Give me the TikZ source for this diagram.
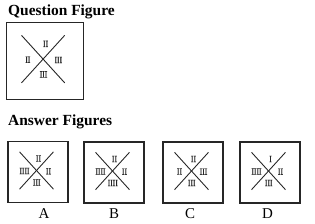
\documentclass[tikz,border=0pt]{standalone}
\usepackage{fontspec}
\setmainfont{Liberation Serif}
\newfontfamily\tallyfont[FakeStretch=0.8,FakeBold=1.5]{Liberation Serif}
\usetikzlibrary{positioning}

% one square with the cross and its four tally groups: name, top, left, right, bottom
\newcommand{\tallyfig}[5]{%
 \draw[frame] (-30,-30.5) rectangle (30,30.5);
 \draw[cross] (-18.5,-20.2) -- (15.5,17.2);
 \draw[cross] (15.5,-20.2) -- (-18.5,17.2);
 \node[tally] (#1top) at (0.5,-13.5) {#2};
 \node[tally] (#1left) at (-13.5,-1) {#3};
 \node[tally] (#1right) at (10.5,-0.8) {#4};
 \node[tally] (#1bot) at (-1.2,10.5) {#5};}

\begin{document}
\begin{tikzpicture}[x=1bp,y=-1bp,
 frame/.style={line width=1.2bp,draw=black!85},
 cross/.style={line width=.9bp,draw=black!85},
 tally/.style={font=\tallyfont\fontsize{9.5}{9.5}\selectfont,inner sep=0pt,text=black!85},
 title/.style={font=\bfseries\fontsize{15.5}{16}\selectfont,anchor=base west,inner sep=0pt},
 lab/.style={font=\fontsize{15}{15}\selectfont,anchor=base,inner sep=0pt}]
\useasboundingbox (0,0) rectangle (315,224);
\node[title] (qtitle) at (8,15) {Question Figure};
\begin{scope}[shift={(45,61)},scale=1.27]
 \tallyfig{q}{II}{II}{III}{III}
\end{scope}
\node[title] (atitle) at (8,125.3) {Answer Figures};
\begin{scope}[shift={(38,172)}]
 \tallyfig{a}{II}{IIII}{II}{III}
\end{scope}
\begin{scope}[shift={(114,172.5)}]
 \tallyfig{b}{II}{IIII}{II}{IIII}
\end{scope}
\begin{scope}[shift={(193,172.5)}]
 \tallyfig{c}{II}{II}{III}{III}
\end{scope}
\begin{scope}[shift={(270,172.5)}]
 \tallyfig{d}{I}{IIII}{II}{III}
\end{scope}
\node[lab] (labA) at (44,218.3) {A};
\node[lab] (labB) at (114,218.3) {B};
\node[lab] (labC) at (190,218.3) {C};
\node[lab] (labD) at (267.5,218.3) {D};
\end{tikzpicture}
\end{document}
